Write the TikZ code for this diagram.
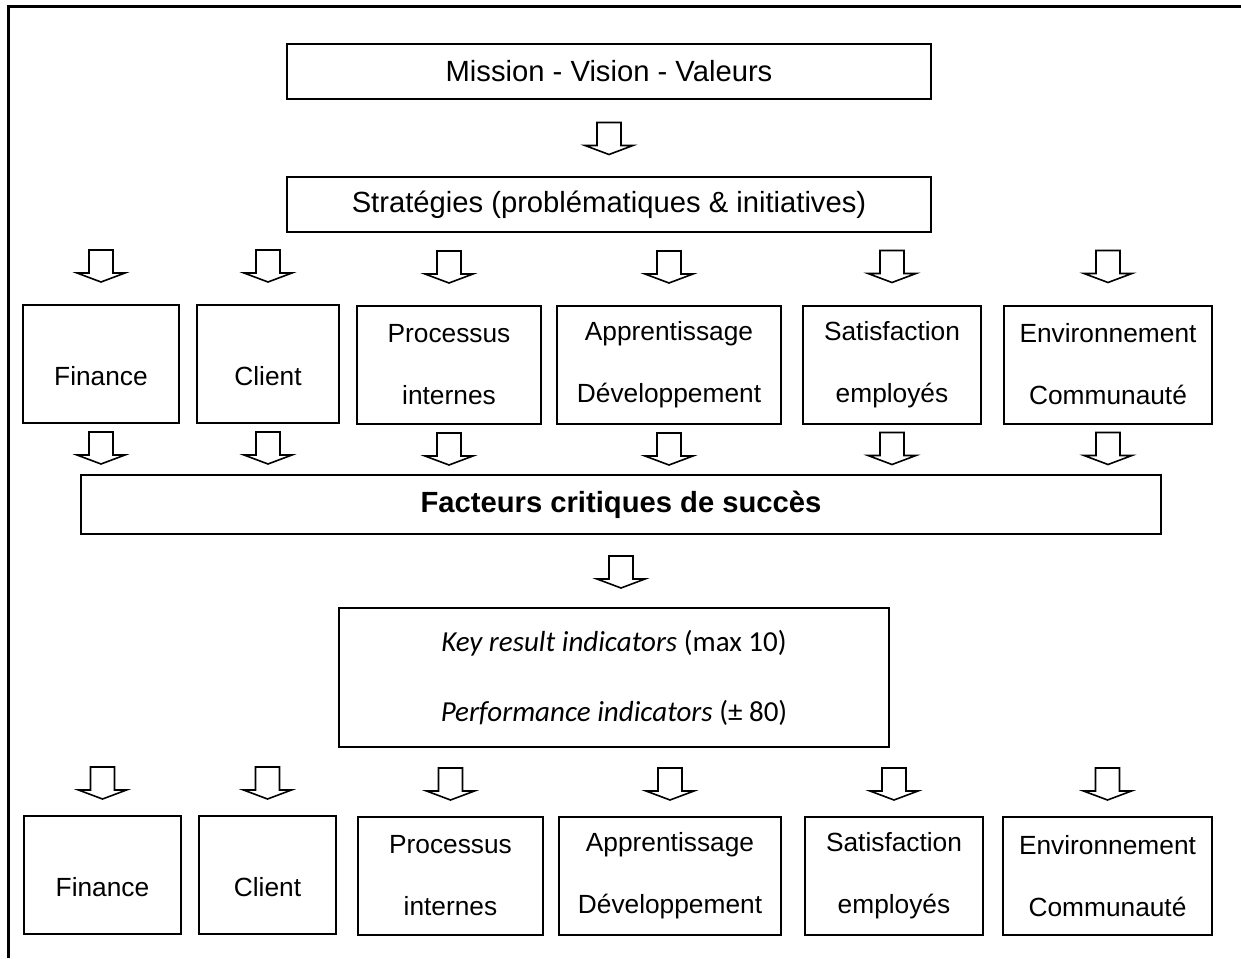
\documentclass[tikz,border=0pt]{standalone}
\usepackage{fontspec}
\setmainfont{Liberation Sans}
\newfontfamily\calibrifont{Carlito}
\usetikzlibrary{calc}
\begin{document}
\begin{tikzpicture}[x=1pt,y=-1pt,
 box/.style={draw, line width=2pt, inner sep=0pt, align=center},
 big/.style={font=\fontsize{29.2}{35}\selectfont},
 small/.style={font=\fontsize{26.3}{62}\selectfont},
 kri/.style={font=\calibrifont\fontsize{29}{70}\selectfont},
 one/.style={text height=43pt, text depth=0pt},
 rowa/.style={box, small, minimum height=118pt},
 arrowline/.style={draw, line width=1.6pt, line join=miter},
 darrow/.pic={\path[arrowline] (-12,0) -- (12,0) -- (12,23) -- (24,23) -- (0,32) -- (-24,23) -- (-12,23) -- cycle;}]
\useasboundingbox (0,0) rectangle (1241,958);
% frame
\coordinate (ftr) at (1241,7);
\coordinate (ftl) at (8,7);
\coordinate (fbl) at (8,958);
\draw[line width=3pt] (ftr) -- (ftl) -- (fbl);
% top boxes
\node[box, big, minimum width=644pt, minimum height=55pt] (mission) at (609,71.5) {Mission - Vision - Valeurs};
\node[box, big, minimum width=644pt, minimum height=55pt] (strat) at (609,204.5) {Stratégies (problématiques \& initiatives)};
\pic at ($(mission.south)+(0,22.5)$) {darrow};
% row A
\node[rowa, one, minimum width=156pt] (fa) at (101,364) {Finance};
\node[rowa, one, minimum width=142pt] (ca) at (268,364) {Client};
\node[rowa, minimum width=184pt] (pa) at (449,365) {Processus\\internes};
\node[rowa, minimum width=224pt] (aa) at (669,365) {Apprentissage\\Développement};
\node[rowa, minimum width=178pt] (sa) at (892,364.5) {Satisfaction\\employés};
\node[rowa, minimum width=208pt] (ea) at (1108,364.5) {Environnement\\Communauté};
\foreach \n in {fa,ca,pa,aa,sa,ea}{
  \pic at ($(\n.north)+(0,-54)$) {darrow};
  \pic at ($(\n.south)+(0,8)$) {darrow};
}
% facteurs
\node[box, big, font=\bfseries\fontsize{29.2}{35}\selectfont, minimum width=1080pt, minimum height=59pt] (fact) at (621,504.5) {Facteurs critiques de succès};
\pic at ($(fact.south)+(0,21)$) {darrow};
% KRI
\node[box, kri, minimum width=550pt, minimum height=139pt] (kpi) at (614,677.5) {\textit{Key result indicators} (max 10)\\\textit{Performance indicators} (± 80)};
% row B
\node[rowa, one, minimum width=157pt] (fb) at (102.5,875) {Finance};
\node[rowa, one, minimum width=137pt] (cb) at (267.5,875) {Client};
\node[rowa, minimum width=185pt] (pb) at (450.5,876) {Processus\\internes};
\node[rowa, minimum width=222pt] (ab) at (670,876) {Apprentissage\\Développement};
\node[rowa, minimum width=178pt] (sb) at (894,876) {Satisfaction\\employés};
\node[rowa, minimum width=209pt] (eb) at (1107.5,876) {Environnement\\Communauté};
\foreach \n in {fb,cb,pb,ab,sb,eb}{
  \pic at ($(\n.north)+(0,-48)$) {darrow};
}
\end{tikzpicture}
\end{document}
